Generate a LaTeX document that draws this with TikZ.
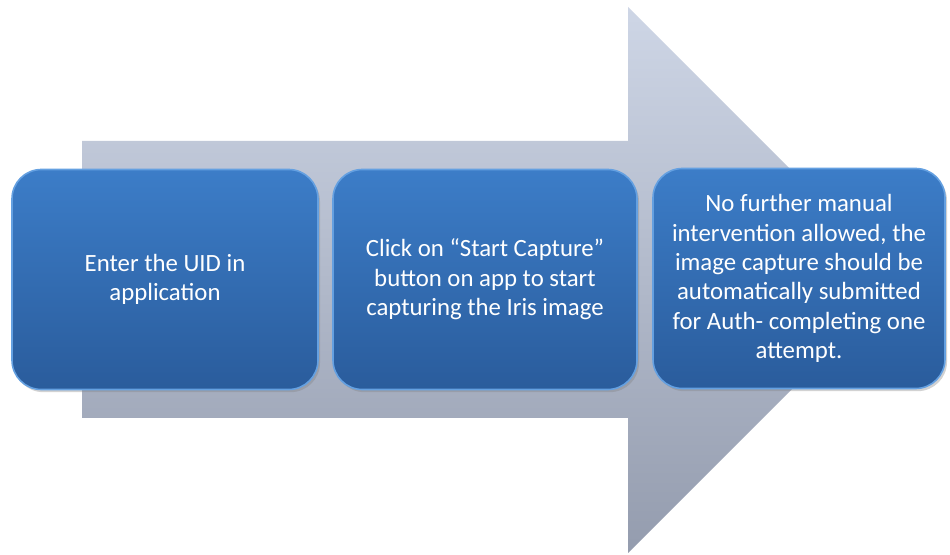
\documentclass[tikz,border=0pt]{standalone}
\usepackage{fontspec}
\setmainfont{Carlito}
\usetikzlibrary{shadows}
\definecolor{arrowtop}{RGB}{206,214,230}
\definecolor{arrowbot}{RGB}{148,156,174}
\definecolor{boxtop}{RGB}{60,125,200}
\definecolor{boxbot}{RGB}{42,92,156}
\definecolor{boxrim}{RGB}{100,160,225}
\begin{document}
\begin{tikzpicture}[x=0.75pt,y=-0.75pt]
    \tikzset{%
        n/.style={rounded corners=22pt, top color=boxtop, bottom color=boxbot,
            draw=boxrim, line width=1.2pt, text=white, align=center,
            minimum height=165pt, inner sep=0pt,
            font=\fontsize{18.6}{22}\selectfont,
            drop shadow={opacity=0.35, shadow xshift=1.5pt, shadow yshift=-2pt}},
        w/.style={fill=white}%
        }
    \useasboundingbox[w](0,0)rectangle(950,555);
    \shade[top color=arrowtop, bottom color=arrowbot]
        (82,141)--(628,141)--(628,7)--(901,280)--(628,553)--(628,418)--(82,418)--cycle;
    \node[n, minimum width=229.5pt](a1)at(165,279.5){Enter the UID in\\application};
    \node[n, minimum width=228pt](b1)at(485,279.5){Click on “Start Capture”\\button on app to start\\capturing the Iris image};
    \node[n, minimum width=219pt](c1)at(799,278.5){No further manual\\intervention allowed, the\\image capture should be\\automatically submitted\\for Auth- completing one\\attempt.};
\end{tikzpicture}
\end{document}
